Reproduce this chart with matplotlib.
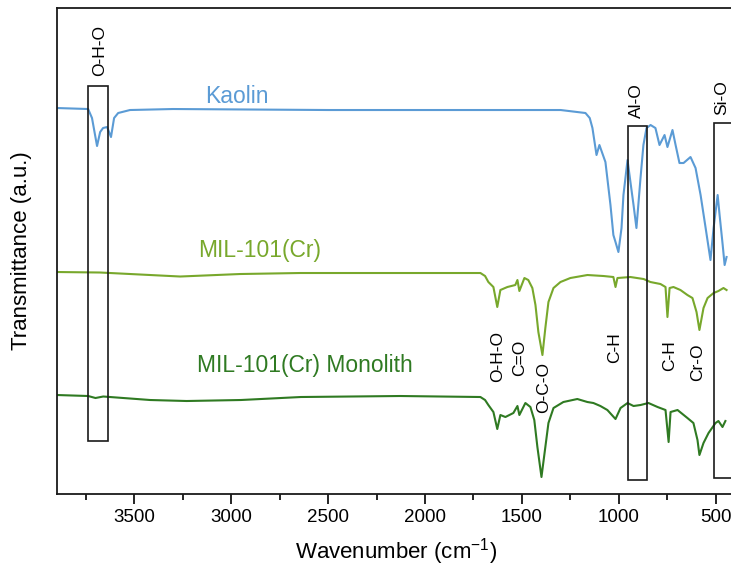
import matplotlib
matplotlib.use("Agg")
import matplotlib.pyplot as plt
from matplotlib.patches import Rectangle
from matplotlib.ticker import MultipleLocator

plt.rcParams['font.family'] = ['Liberation Sans', 'DejaVu Sans']
plt.rcParams['mathtext.fontset'] = 'custom'
plt.rcParams['mathtext.rm'] = 'Liberation Sans'
plt.rcParams['mathtext.it'] = 'Liberation Sans:italic'

# FTIR spectra (transmittance, arbitrary units, stacked with offsets)
kaolin_wn = [3900, 3738, 3718, 3692, 3676, 3661, 3640, 3620, 3604, 3583, 3522,
             3300, 2500, 1800, 1300, 1172, 1150, 1136, 1115, 1100, 1069, 1043, 1028,
             1017, 1002, 986, 976, 955, 940, 924, 909, 888, 873, 857, 836, 811,
             790, 764, 749, 723, 707, 687, 666, 630, 604, 578, 552, 527, 511,
             490, 480, 464, 454, 444]
kaolin_t = [386, 385, 376, 348, 362, 366, 367, 357, 376, 381, 384,
            385, 384, 384, 384, 381, 376, 366, 339, 349, 332, 289, 259,
            252, 242, 266, 299, 334, 312, 289, 266, 316, 349, 366, 369, 366,
            349, 359, 347, 364, 349, 331, 331, 337, 326, 299, 266, 234, 266,
            299, 279, 249, 229, 237]

mil_wn = [3900, 3676, 3263, 2953, 2644, 2128, 1714, 1690, 1673, 1647, 1627, 1611,
          1575, 1534, 1523, 1513, 1487, 1467, 1446, 1430, 1415, 1394, 1379,
          1363, 1337, 1301, 1250, 1162, 1079, 1028, 1017, 1007, 940, 872, 837,
          785, 759, 749, 738, 718, 682, 646, 620, 599, 584, 563, 542, 511,
          486, 460, 444]
mil_t = [222, 221.5, 217.5, 220, 221, 221, 221, 218, 212, 207, 187, 204,
         207, 209, 214, 203, 216, 214, 206, 189, 162, 139, 166,
         192, 206, 212, 216, 219, 218, 217, 207, 216, 217, 215, 212,
         210, 207, 177, 206, 207, 204, 199, 196, 182, 164, 186, 196, 201,
         203, 206, 204]

mono_wn = [3900, 3738, 3700, 3660, 3418, 3230, 2950, 2640, 2128, 1714, 1690, 1673,
           1647, 1627, 1611, 1585, 1544, 1523, 1513, 1482, 1456, 1436, 1420,
           1399, 1379, 1363, 1337, 1286, 1214, 1162, 1131, 1095, 1059, 1017,
           991, 955, 924, 888, 847, 800, 759, 743, 733, 697, 646, 615, 594,
           584, 563, 537, 501, 486, 465, 450]
mono_t = [99, 98, 96, 97.5, 94, 93, 94, 97, 98, 97, 94, 89,
          82, 65, 79, 77, 81, 88, 79, 91, 87, 74, 47,
          17, 47, 71, 86, 92, 95, 92, 91, 88, 84, 75,
          86, 91, 88, 89, 91, 87, 84, 52, 82, 84, 76, 71, 54,
          39, 51, 61, 71, 73, 67, 73]

series_names = ["Kaolin", "MIL-101(Cr)", "MIL-101(Cr) Monolith"]
series_colors = ["#5b9bd5", "#78a82c", "#2f7a22"]
# label anchors (wavenumber, a.u.)
label_pos = [(3134, 391), (3170, 237), (3175, 122)]

# highlighted band regions: (label, wn_high, wn_low, bottom, top, label wn, label y)
bands = [("O-H-O", 3738, 3635, 53, 408, 3679, 443.5),
         ("Al-O", 955, 854, 14, 368, 911, 393.5),
         ("Si-O", 511, 380, 16, 371, 470, 396.5)]

# peak assignments (label, wn, y)
peaks = [("O-H-O", 1624, 137.5), ("C=O", 1510, 136.5), ("O-C-O", 1386, 106.5),
         ("C-H", 1020, 146.5), ("C-H", 736, 138), ("Cr-O", 591, 131.5)]

fig = plt.figure(figsize=(7.31, 5.69), dpi=100)
ax = fig.add_axes([0.0776, 0.1318, 0.928, 0.8541])

for wn, t, c in zip([kaolin_wn, mil_wn, mono_wn], [kaolin_t, mil_t, mono_t], series_colors):
    ax.plot(wn, t, color=c, lw=1.5, solid_joinstyle='round')

for name, c, (x, y) in zip(series_names, series_colors, label_pos):
    ax.text(x, y, name, color=c, fontsize=16.5, ha='left', va='baseline')

for lab, w1, w2, y0, y1, lx, ly in bands:
    ax.add_patch(Rectangle((w2, y0), w1 - w2, y1 - y0, fill=False,
                           edgecolor='#1a1a1a', lw=1.2, zorder=3))
    ax.text(lx, ly, lab, rotation=90, ha='center', va='center', fontsize=12.5)

for lab, x, y in peaks:
    ax.text(x, y, lab, rotation=90, ha='center', va='center', fontsize=12.5)

ax.set_xlim(3900, 400)
ax.set_ylim(0, 486)
ax.set_xticks([3500, 3000, 2500, 2000, 1500, 1000, 500])
ax.xaxis.set_minor_locator(MultipleLocator(250))
ax.tick_params(axis='x', which='major', direction='out', length=7, width=1.2,
               labelsize=13.5, pad=4)
ax.tick_params(axis='x', which='minor', direction='out', length=4, width=1.2)
ax.set_yticks([])
for s in ax.spines.values():
    s.set_linewidth(1.3)
    s.set_color('#1a1a1a')

ax.set_xlabel('Wavenumber (cm$^{-1}$)', fontsize=16, labelpad=7)
ax.set_ylabel('Transmittance (a.u.)', fontsize=16)
ax.yaxis.set_label_coords(-0.037, 0.5)

fig.savefig("out.png", dpi=100)
